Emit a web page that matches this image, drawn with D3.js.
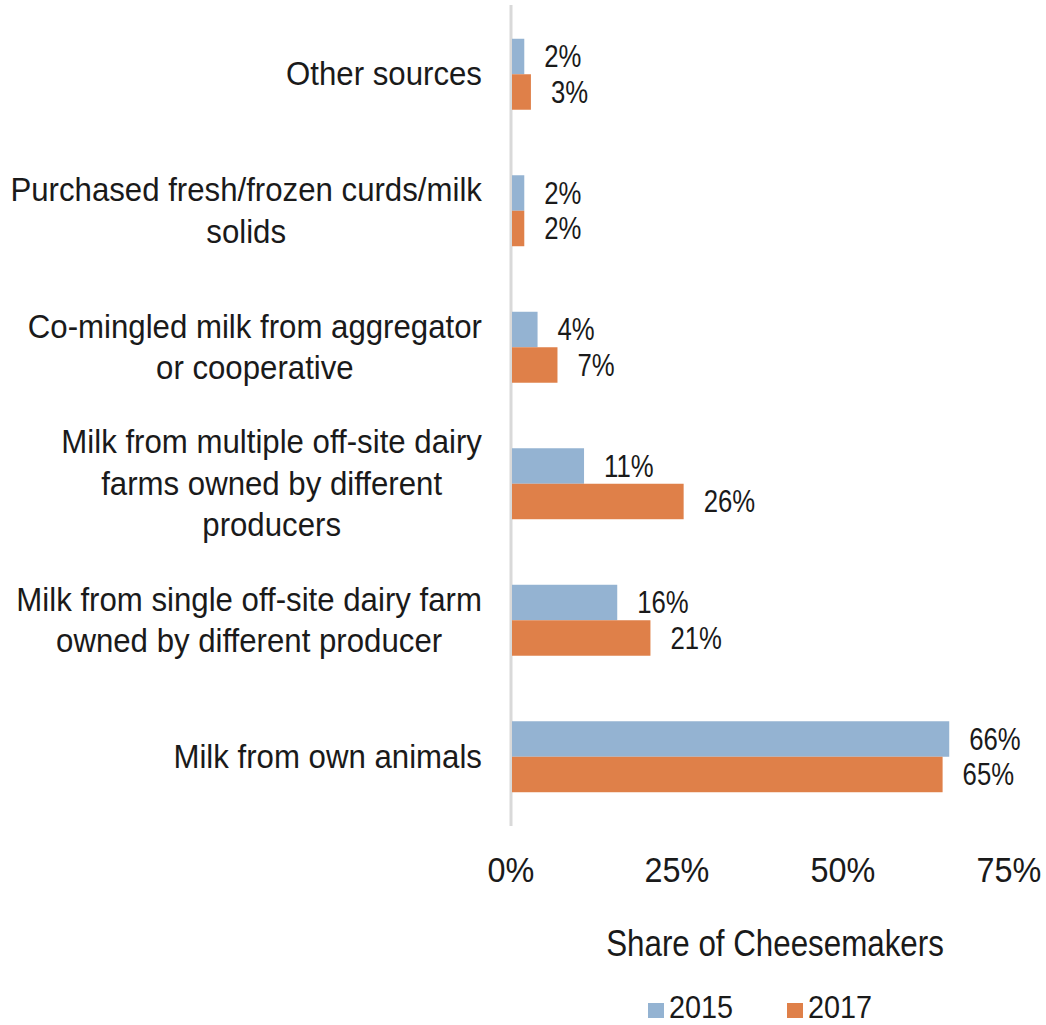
<!DOCTYPE html>
<html>
<head>
<meta charset="utf-8">
<script src="https://cdn.jsdelivr.net/npm/d3@7/dist/d3.min.js"></script>
<style>
  html, body { margin: 0; padding: 0; background: #fff; }
  svg { display: block; }
  text { font-family: "Liberation Sans", Arial, Helvetica, sans-serif; fill: #1a1a1a; }
</style>
</head>
<body>
<svg id="chart" width="1046" height="1025"></svg>
<script>
// Milk sources used by cheesemakers, share of respondents by survey year
const categories = [
  ["Other sources"],
  ["Purchased fresh/frozen curds/milk", "solids"],
  ["Co-mingled milk from aggregator", "or cooperative"],
  ["Milk from multiple off-site dairy", "farms owned by different", "producers"],
  ["Milk from single off-site dairy farm", "owned by different producer"],
  ["Milk from own animals"]
];
const years = ["2015", "2017"];
const values2015 = [2, 2, 4, 11, 16, 66];
const values2017 = [3, 2, 7, 26, 21, 65];
const xTicks = [0, 25, 50, 75];
const axisTitle = "Share of Cheesemakers";
const colors = { "2015": "#94b3d2", "2017": "#df8049" };

const svg = d3.select("#chart");

const x = d3.scaleLinear().domain([0, 75]).range([511, 1009]);
const y = d3.scaleBand()
  .domain(d3.range(categories.length))
  .range([6, 825])
  .paddingInner(0.48)
  .paddingOuter(0.24);
const ySub = d3.scaleBand().domain(years).range([0, y.bandwidth()]);

const rows = categories.map((lines, i) => ({
  i, lines,
  series: [
    { year: "2015", value: values2015[i] },
    { year: "2017", value: values2017[i] }
  ]
}));

// vertical category axis line
svg.append("line")
  .attr("x1", x(0)).attr("x2", x(0))
  .attr("y1", 5).attr("y2", 826)
  .attr("stroke", "#d9d9d9").attr("stroke-width", 3);

// bars
const groups = svg.append("g").selectAll("g")
  .data(rows).join("g")
  .attr("transform", d => `translate(0,${y(d.i)})`);

groups.selectAll("rect")
  .data(d => d.series).join("rect")
  .attr("x", x(0) + 1)
  .attr("y", d => ySub(d.year))
  .attr("width", d => x(d.value) - x(0) - 1)
  .attr("height", ySub.bandwidth())
  .attr("fill", d => colors[d.year]);

// value labels
groups.selectAll("text.val")
  .data(d => d.series).join("text")
  .attr("class", "val")
  .attr("transform", d => `translate(${x(d.value) + 20},${ySub(d.year) + ySub.bandwidth() / 2}) scale(0.83,1)`)
  .attr("dominant-baseline", "central")
  .style("font-size", "31px")
  .text(d => d.value + "%");

// category labels, lines centred on each other and right-aligned as a block
const labelRight = 482, lineH = 41.5;
const catG = svg.append("g");
rows.forEach(r => {
  const g = catG.append("g");
  const cy = y(r.i) + y.bandwidth() / 2;
  const texts = r.lines.map(ln => g.append("text")
    .style("font-size", "32.5px")
    .attr("text-anchor", "middle")
    .attr("dominant-baseline", "central")
    .text(ln));
  const sx = 0.96;
  const maxW = d3.max(texts, t => t.node().getComputedTextLength()) * sx;
  const cx = labelRight - maxW / 2;
  texts.forEach((t, k) => {
    const ty = cy + (k - (r.lines.length - 1) / 2) * lineH;
    t.attr("transform", `translate(${cx},${ty}) scale(${sx},1)`);
  });
});

// x tick labels
svg.append("g").selectAll("text")
  .data(xTicks).join("text")
  .attr("transform", d => `translate(${x(d)},${869}) scale(0.9,1)`)
  .attr("text-anchor", "middle")
  .attr("dominant-baseline", "central")
  .style("font-size", "36px")
  .text(d => d + "%");

// axis title
svg.append("text")
  .attr("transform", `translate(${775},${943}) scale(0.87,1)`)
  .attr("text-anchor", "middle")
  .attr("dominant-baseline", "central")
  .style("font-size", "36px")
  .text(axisTitle);

// legend
const legendPos = { "2015": 648, "2017": 787 };
const leg = svg.append("g").selectAll("g")
  .data(years).join("g")
  .attr("transform", d => `translate(${legendPos[d]},${1003})`);
leg.append("rect")
  .attr("x", 0).attr("y", 0)
  .attr("width", 16).attr("height", 15)
  .attr("fill", d => colors[d]);
leg.append("text")
  .attr("transform", `translate(21,15) scale(0.9,1)`)
  .style("font-size", "32px")
  .text(d => d);
</script>
</body>
</html>
